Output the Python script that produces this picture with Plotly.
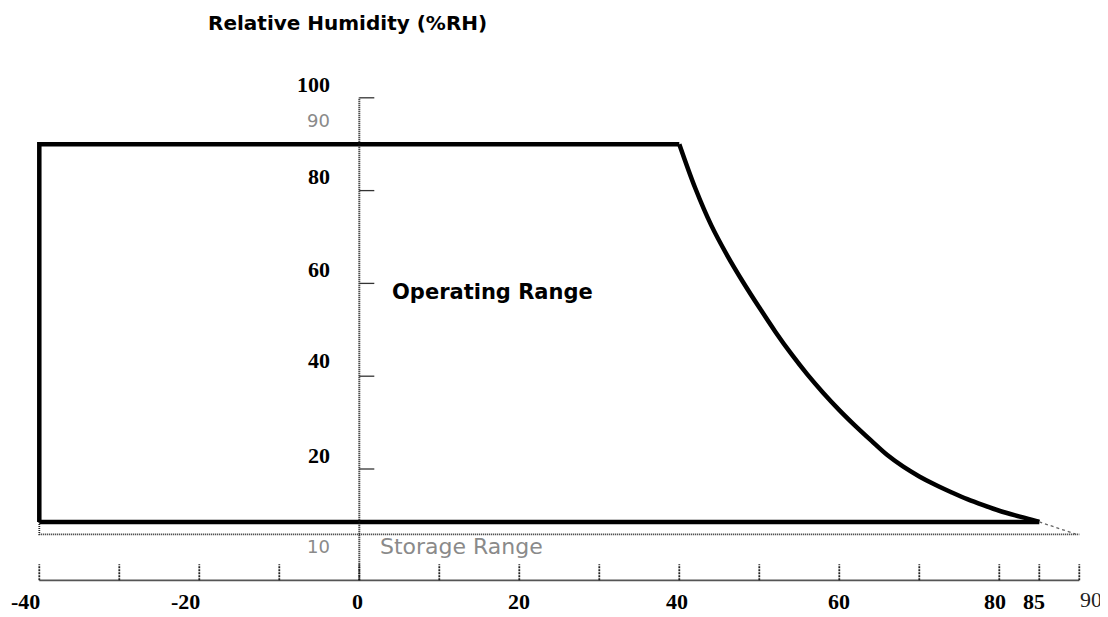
import plotly.graph_objects as go

# ---------------- data ----------------
# operating envelope
op_top = 90
op_low = 8.6
op_left = -40
curve_x = [40, 42, 44, 46, 48, 50, 52, 54, 56, 58, 60, 62, 64, 66, 68, 70, 72, 74, 76, 78, 80, 82, 84, 85]
curve_y = [90, 80.5, 72.5, 66, 60.2, 54.8, 49.6, 44.8, 40.4, 36.4, 32.7, 29.3, 26.1, 23.0, 20.5, 18.4, 16.6, 15.0, 13.5, 12.2, 11.0, 10.0, 9.1, 8.6]

# storage range
storage_y = 5.9
storage_x = [-40, 90]
storage_tail_x = [85, 89.5]
storage_tail_y = [8.6, 6.0]

# axes
x_axis_y = -4
x_tick_vals = [-40, -30, -20, -10, 0, 10, 20, 30, 40, 50, 60, 70, 80, 85, 90]
x_label_vals = [-40, -20, 0, 20, 40, 60, 80, 85, 90]
x_label_text = ["-40", "-20", "0", "20", "40", "60", "80", "85", "90"]
y_tick_vals = [100, 80, 60, 40, 20]
y_label_vals = [100, 80, 60, 40, 20]
y_label_text = ["100", "80", "60", "40", "20"]
y_extra_vals = [90, 10]
y_extra_text = ["90", "10"]

# ---------------- styles ----------------
OFF = 8          # page body margin
W, H = 1108 - OFF, 617 - OFF
PX_X = 8.0       # px per x unit
PX_Y = 4.64      # px per y unit
X0 = 359.3 - OFF  # pixel of x=0
Y0 = 561.8 - OFF  # pixel of y=0
x_range = [-X0 / PX_X, (W - X0) / PX_X]
y_range = [-(H - Y0) / PX_Y, Y0 / PX_Y]
x_tick_len = 16 / PX_Y
y_tick_len = 15 / PX_X
x_label_shift = [-14, -14, -2, 0, -2, 0, -4, -5, 12]
y_label_shift = [13, 14, 13.5, 16, 14]
y_extra_shift = [24, -31.5]

fig = go.Figure()

# operating envelope
fig.add_trace(go.Scatter(x=[op_left, op_left, curve_x[0]], y=[op_low, op_top, op_top], mode="lines",
                         line=dict(color="black", width=4.5), hoverinfo="skip"))
fig.add_trace(go.Scatter(x=curve_x, y=curve_y, mode="lines",
                         line=dict(color="black", width=4.5, shape="spline", smoothing=1.0),
                         hoverinfo="skip"))
fig.add_trace(go.Scatter(x=[op_left, curve_x[-1]], y=[op_low, op_low], mode="lines",
                         line=dict(color="black", width=4.5), hoverinfo="skip"))

# storage line
fig.add_trace(go.Scatter(x=[storage_x[0], storage_x[0], storage_x[1]],
                         y=[op_low, storage_y, storage_y], mode="lines",
                         line=dict(color="#222222", width=1.8, dash="1px,1px"), hoverinfo="skip"))
fig.add_trace(go.Scatter(x=storage_tail_x, y=storage_tail_y, mode="lines",
                         line=dict(color="#666666", width=1.3, dash="3px,3px"), hoverinfo="skip"))

# x axis line + ticks
fig.add_trace(go.Scatter(x=[x_tick_vals[0], x_tick_vals[-1]], y=[x_axis_y, x_axis_y], mode="lines",
                         line=dict(color="#555555", width=1.8), hoverinfo="skip"))
tx, ty = [], []
for v in x_tick_vals:
    tx += [v, v, None]
    ty += [x_axis_y, x_axis_y + x_tick_len, None]
fig.add_trace(go.Scatter(x=tx, y=ty, mode="lines",
                         line=dict(color="#222222", width=1.8, dash="2px,1px"), hoverinfo="skip"))

# y axis line + ticks
fig.add_trace(go.Scatter(x=[0, 0], y=[x_axis_y, y_tick_vals[0]], mode="lines",
                         line=dict(color="#111111", width=2, dash="1px,1px"), hoverinfo="skip"))
yx, yy = [], []
for v in y_tick_vals:
    yx += [0, y_tick_len, None]
    yy += [v, v, None]
fig.add_trace(go.Scatter(x=yx, y=yy, mode="lines",
                         line=dict(color="#333333", width=1.3), hoverinfo="skip"))

annotations = []
serif = "Liberation Serif"
for v, t, s in zip(x_label_vals, x_label_text, x_label_shift):
    light = (t == "90")
    annotations.append(dict(x=v, y=x_axis_y, text=t if light else f"<b>{t}</b>", showarrow=False,
                            xanchor="center", yanchor="middle", xshift=s,
                            yshift=-21.5 if not light else -19,
                            font=dict(family=serif, size=22, color="#222222" if light else "black")))
for v, t, s in zip(y_label_vals, y_label_text, y_label_shift):
    annotations.append(dict(x=0, y=v, text=f"<b>{t}</b>", showarrow=False,
                            xanchor="right", yanchor="middle", xshift=-27, yshift=s,
                            font=dict(family=serif, size=22, color="black")))
for v, t, s in zip(y_extra_vals, y_extra_text, y_extra_shift):
    annotations.append(dict(x=0, y=v, text=t, showarrow=False,
                            xanchor="right", yanchor="middle", xshift=-27, yshift=s,
                            font=dict(family="DejaVu Sans", size=18, color="#8a8a8a")))

annotations.append(dict(x=3.84, y=58.2, text="<b>Operating Range</b>", showarrow=False,
                        xanchor="left", yanchor="middle",
                        font=dict(family="DejaVu Sans", size=21, color="black")))
annotations.append(dict(x=2.34, y=3.25, text="Storage Range", showarrow=False,
                        xanchor="left", yanchor="middle",
                        font=dict(family="DejaVu Sans", size=22, color="#8a8a8a")))

fig.update_layout(
    width=W, height=H,
    margin=dict(l=0, r=0, t=0, b=0),
    paper_bgcolor="white", plot_bgcolor="white",
    showlegend=False,
    title=dict(text="<b>Relative Humidity (%RH)</b>", x=(208 - OFF) / W, xanchor="left",
               y=1 - (23 - OFF) / H, yanchor="middle", yref="container",
               font=dict(family="DejaVu Sans", size=20, color="black")),
    xaxis=dict(range=x_range, visible=False, fixedrange=True),
    yaxis=dict(range=y_range, visible=False, fixedrange=True),
    annotations=annotations,
)

fig.write_html("out.html")
